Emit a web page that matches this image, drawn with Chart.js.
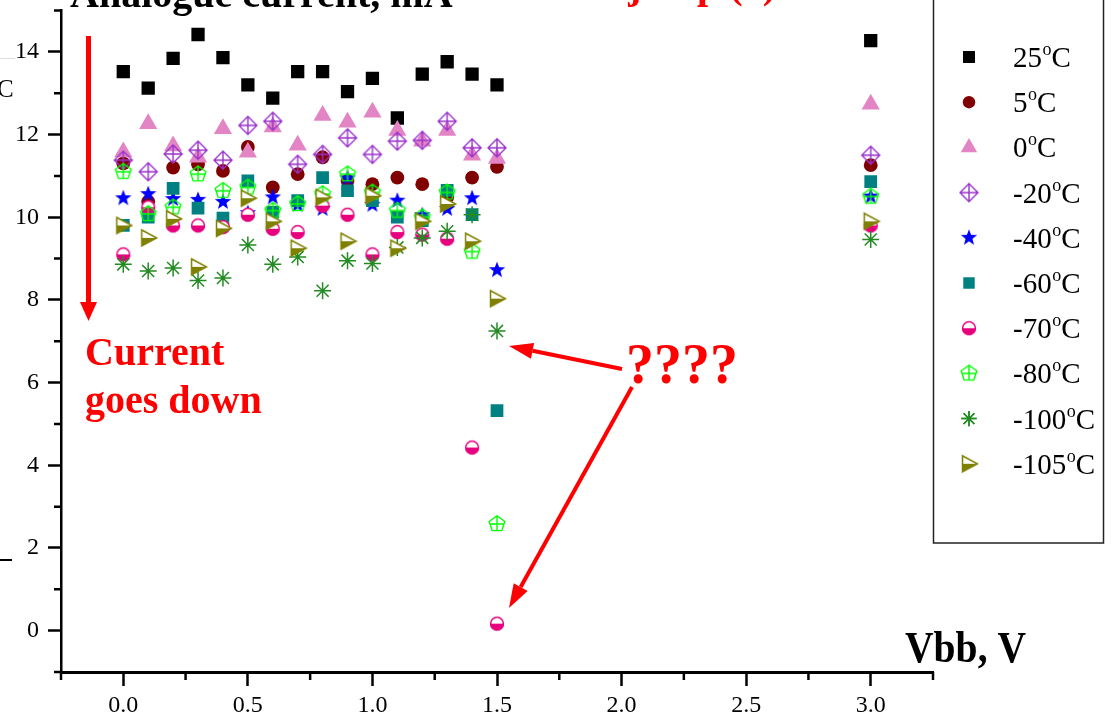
<!DOCTYPE html>
<html>
<head>
<meta charset="utf-8">
<title>Analogue current vs Vbb</title>
<script src="https://cdn.jsdelivr.net/npm/chart.js@4.4.1/dist/chart.umd.min.js"></script>
<style>
  html, body { margin: 0; padding: 0; background: #fff; }
  canvas { display: block; }
</style>
</head>
<body>
<canvas id="chart" width="1115" height="720"></canvas>
<script>
// Vbb, V
const vbb = [0.0, 0.1, 0.2, 0.3, 0.4, 0.5, 0.6, 0.7, 0.8, 0.9, 1.0, 1.1, 1.2, 1.3, 1.4, 1.5, 3.0];

// Analogue current, mA, per temperature
const cur25 = [13.52, 13.12, 13.84, 14.42, 13.86, 13.2, 12.88, 13.52, 13.52, 13.04, 13.36, 12.4, 13.46, 13.76, 13.46, 13.2, 14.27];
const cur5 = [11.3, 10.38, 11.2, 11.28, 11.12, 11.7, 10.72, 11.04, 11.45, 10.88, 10.8, 10.96, 10.8, 10.48, 10.96, 11.22, 11.26];
const cur0 = [11.58, 12.26, 11.72, 11.45, 12.14, 11.57, 12.18, 11.74, 12.46, 12.3, 12.54, 12.1, 11.84, 12.1, 11.5, 11.42, 12.73];
const curM20 = [11.38, 11.1, 11.53, 11.62, 11.38, 12.22, 12.32, 11.28, 11.52, 11.92, 11.52, 11.84, 11.86, 12.32, 11.68, 11.68, 11.5];
const curM40 = [10.46, 10.56, 10.44, 10.42, 10.37, 10.1, 10.48, 10.3, 10.2, 10.94, 10.3, 10.4, 10.05, 10.2, 10.46, 8.72, 10.5];
const curM60 = [9.8, 10.0, 10.7, 10.22, 9.98, 10.88, 10.12, 10.4, 10.96, 10.64, 10.4, 10.0, 9.92, 10.65, 10.06, 5.32, 10.86];
const curM70 = [9.1, 10.24, 9.8, 9.8, 9.76, 10.06, 9.72, 9.64, 10.28, 10.06, 9.1, 9.64, 9.58, 9.48, 4.43, 0.17, 9.8];
const curM80 = [11.1, 10.08, 10.24, 11.04, 10.64, 10.72, 10.16, 10.32, 10.56, 11.04, 10.6, 10.16, 10.0, 10.6, 9.17, 2.58, 10.5];
const curM100 = [8.86, 8.7, 8.77, 8.47, 8.53, 9.33, 8.86, 9.04, 8.22, 8.95, 8.88, 9.27, 9.5, 9.66, 10.06, 7.25, 9.46];
const curM105 = [9.8, 9.5, 9.96, 8.8, 9.73, 10.46, 9.9, 9.25, 10.48, 9.42, 10.52, 9.25, 9.9, 10.32, 9.42, 8.03, 9.9];

const seriesLabels = ["25°C", "5°C", "0°C", "-20°C", "-40°C", "-60°C", "-70°C", "-80°C", "-100°C", "-105°C"];
const seriesValues = [cur25, cur5, cur0, curM20, curM40, curM60, curM70, curM80, curM100, curM105];

// axis ticks
const xTicks = [0, 0.5, 1.0, 1.5, 2.0, 2.5, 3.0];
const xMinorTicks = [-0.25, 0.25, 0.75, 1.25, 1.75, 2.25, 2.75, 3.25];
const yTicks = [0, 2, 4, 6, 8, 10, 12, 14];
const yMinorTicks = [-1, 1, 3, 5, 7, 9, 11, 13, 15];

// Custom marker shapes (Origin style symbols)
function makeMarker(size, draw) {
  const c = document.createElement("canvas");
  c.width = size;
  c.height = size;
  const ctx = c.getContext("2d");
  ctx.translate(size / 2, size / 2);
  draw(ctx);
  return c;
}

const diamondCross = (color) => makeMarker(22, (ctx) => {
  const r = 9;
  ctx.strokeStyle = color;
  ctx.lineWidth = 1.4;
  ctx.beginPath();
  ctx.moveTo(0, -r); ctx.lineTo(r, 0); ctx.lineTo(0, r); ctx.lineTo(-r, 0); ctx.closePath();
  ctx.moveTo(0, -r); ctx.lineTo(0, r);
  ctx.moveTo(-r, 0); ctx.lineTo(r, 0);
  ctx.stroke();
});

const star5 = (color) => makeMarker(20, (ctx) => {
  const R = 8.6, r = 3.6;
  ctx.fillStyle = color;
  ctx.beginPath();
  for (let i = 0; i < 10; i++) {
    const a = -Math.PI / 2 + i * Math.PI / 5;
    const rr = i % 2 ? r : R;
    ctx.lineTo(Math.cos(a) * rr, Math.sin(a) * rr);
  }
  ctx.closePath();
  ctx.fill();
});

const halfCircle = (color) => makeMarker(18, (ctx) => {
  const r = 6.9;
  ctx.fillStyle = "#fff";
  ctx.beginPath(); ctx.arc(0, 0, r, 0, 2 * Math.PI); ctx.fill();
  ctx.fillStyle = color;
  ctx.beginPath(); ctx.arc(0, 0, r, 0, Math.PI); ctx.closePath(); ctx.fill();
  ctx.strokeStyle = color;
  ctx.lineWidth = 1.5;
  ctx.beginPath(); ctx.arc(0, 0, r - 0.5, 0, 2 * Math.PI); ctx.stroke();
});

const pentagonCross = (color) => makeMarker(20, (ctx) => {
  const r = 8.2;
  ctx.strokeStyle = color;
  ctx.lineWidth = 1.4;
  ctx.beginPath();
  for (let i = 0; i < 5; i++) {
    const a = -Math.PI / 2 + i * 2 * Math.PI / 5;
    ctx.lineTo(Math.cos(a) * r, Math.sin(a) * r);
  }
  ctx.closePath();
  ctx.moveTo(0, -r); ctx.lineTo(0, r * 0.81);
  ctx.moveTo(-r * 0.85, 0); ctx.lineTo(r * 0.85, 0);
  ctx.stroke();
});

const halfTriangle = (color) => makeMarker(20, (ctx) => {
  const tri = () => {
    ctx.beginPath();
    ctx.moveTo(-6.5, -8); ctx.lineTo(8.5, 0); ctx.lineTo(-6.5, 8); ctx.closePath();
  };
  ctx.fillStyle = "#fff";
  tri(); ctx.fill();
  ctx.fillStyle = color;
  ctx.beginPath();
  ctx.moveTo(-6.5, 0); ctx.lineTo(8.5, 0); ctx.lineTo(-6.5, 8); ctx.closePath();
  ctx.fill();
  ctx.strokeStyle = color;
  ctx.lineWidth = 1.5;
  tri(); ctx.stroke();
});

// marker style per series
const seriesStyles = [
  { color: "#000000", pointStyle: "rect", radius: 9.4, border: 0 },
  { color: "#800000", pointStyle: "circle", radius: 6.9, border: 0 },
  { color: "#e384c4", pointStyle: "triangle", radius: 10.5, border: 0 },
  { color: "#9a32cd", pointStyle: diamondCross("#9a32cd"), radius: 9, border: 0 },
  { color: "#0000ff", pointStyle: star5("#0000ff"), radius: 8, border: 0 },
  { color: "#008080", pointStyle: "rect", radius: 9, border: 0 },
  { color: "#e6007e", pointStyle: halfCircle("#e6007e"), radius: 7, border: 0 },
  { color: "#00ff00", pointStyle: pentagonCross("#00ff00"), radius: 8, border: 0 },
  { color: "#228b22", pointStyle: "star", radius: 8.5, border: 1.5 },
  { color: "#808000", pointStyle: halfTriangle("#808000"), radius: 8, border: 0 },
];

const datasets = seriesLabels.map((label, i) => ({
  label: label,
  data: vbb.map((x, j) => ({ x: x, y: seriesValues[i][j] })),
  pointStyle: seriesStyles[i].pointStyle,
  pointRadius: seriesStyles[i].radius,
  pointHoverRadius: seriesStyles[i].radius,
  backgroundColor: seriesStyles[i].color,
  borderColor: seriesStyles[i].color,
  borderWidth: seriesStyles[i].border,
  showLine: false,
  order: seriesLabels.length - i, // later series drawn on top
}));

const SERIF = '"Liberation Serif", "DejaVu Serif", serif';

// short minor ticks on both axes
const minorTicks = {
  id: "minorTicks",
  afterDraw(chart) {
    const ctx = chart.ctx;
    const { left, bottom } = chart.chartArea;
    ctx.save();
    ctx.strokeStyle = "#000";
    ctx.lineWidth = 2.5;
    ctx.beginPath();
    xMinorTicks.forEach((v) => {
      const px = chart.scales.x.getPixelForValue(v);
      ctx.moveTo(px, bottom);
      ctx.lineTo(px, bottom + 8);
    });
    yMinorTicks.forEach((v) => {
      const py = chart.scales.y.getPixelForValue(v);
      ctx.moveTo(left, py);
      ctx.lineTo(left - 7, py);
    });
    ctx.stroke();
    ctx.restore();
  },
};

function arrow(ctx, x1, y1, x2, y2, width, headLen, headHalf) {
  const ang = Math.atan2(y2 - y1, x2 - x1);
  const bx = x2 - Math.cos(ang) * headLen;
  const by = y2 - Math.sin(ang) * headLen;
  ctx.lineWidth = width;
  ctx.beginPath();
  ctx.moveTo(x1, y1);
  ctx.lineTo(bx, by);
  ctx.stroke();
  ctx.beginPath();
  ctx.moveTo(x2, y2);
  ctx.lineTo(bx + Math.sin(ang) * headHalf, by - Math.cos(ang) * headHalf);
  ctx.lineTo(bx - Math.sin(ang) * headHalf, by + Math.cos(ang) * headHalf);
  ctx.closePath();
  ctx.fill();
}

// titles, red notes and arrows
const annotations = {
  id: "annotations",
  afterDraw(chart) {
    const ctx = chart.ctx;
    ctx.save();
    ctx.textBaseline = "alphabetic";

    ctx.fillStyle = "#000";
    ctx.font = "bold 40px " + SERIF;
    ctx.textAlign = "left";
    ctx.fillText("Analogue current, mA", 70, 7);

    // axis name, a bit narrow like the original
    ctx.save();
    ctx.translate(905, 662);
    ctx.scale(0.88, 1);
    ctx.font = "bold 45px " + SERIF;
    ctx.fillText("Vbb, V", 0, 0);
    ctx.restore();

    // cropped bits at the left edge
    ctx.font = "25px " + SERIF;
    ctx.fillText("C", -3, 97);
    ctx.fillRect(0, 559, 12, 2);
    ctx.fillStyle = "#dddddd";
    ctx.fillRect(0, 58, 15, 1);

    ctx.fillStyle = "#ff0000";
    ctx.strokeStyle = "#ff0000";
    ctx.font = "bold 40px " + SERIF;
    ctx.textAlign = "right";
    ctx.fillText("Sudden jump (?)", 776, -2);
    ctx.textAlign = "left";
    ctx.fillText("Current", 85, 365);
    ctx.fillText("goes down", 85, 413);
    ctx.font = "bold 56px " + SERIF;
    ctx.fillText("????", 626, 383);

    arrow(ctx, 88.5, 36, 88.5, 321, 5, 19, 8.5);
    arrow(ctx, 622, 369, 509, 346, 4, 24, 8);
    arrow(ctx, 632, 387, 509, 608, 4, 24, 8);
    ctx.restore();
  },
};

// boxed legend with superscript degree sign
const boxLegend = {
  id: "boxLegend",
  afterDraw(chart) {
    const ctx = chart.ctx;
    ctx.save();
    ctx.strokeStyle = "#222";
    ctx.lineWidth = 1.5;
    ctx.strokeRect(933.5, -5, 170, 548);
    chart.data.datasets.forEach((ds, i) => {
      const y = 57 + i * 45.2;
      ctx.fillStyle = ds.backgroundColor;
      ctx.strokeStyle = ds.borderColor;
      ctx.lineWidth = ds.borderWidth;
      Chart.helpers.drawPoint(ctx, {
        pointStyle: ds.pointStyle,
        radius: ds.pointRadius * 0.9,
        borderWidth: ds.borderWidth,
        rotation: 0,
      }, 969, y);
      if (ds.borderWidth) ctx.stroke();
      const parts = ds.label.split("°");
      ctx.fillStyle = "#000";
      ctx.textAlign = "left";
      ctx.font = "29px " + SERIF;
      let x = 1013;
      ctx.fillText(parts[0], x, y + 10);
      x += ctx.measureText(parts[0]).width;
      ctx.font = "18px " + SERIF;
      ctx.fillText("o", x + 0.5, y - 2);
      x += ctx.measureText("o").width + 0.5;
      ctx.font = "29px " + SERIF;
      ctx.fillText(parts[1], x, y + 10);
    });
    ctx.restore();
  },
};

new Chart(document.getElementById("chart"), {
  type: "scatter",
  data: { datasets: datasets },
  options: {
    responsive: false,
    animation: false,
    devicePixelRatio: 1,
    layout: { padding: { left: 0, top: 8, right: 182, bottom: 0 } },
    plugins: {
      legend: { display: false },
      tooltip: { enabled: false },
    },
    scales: {
      x: {
        type: "linear",
        min: -0.25,
        max: 3.25,
        afterBuildTicks: (scale) => { scale.ticks = xTicks.map((v) => ({ value: v })); },
        afterFit: (scale) => {
          scale.height = 48;
          scale.paddingLeft = 0;
          scale.paddingRight = 0;
        },
        border: { display: true, color: "#000", width: 3 },
        grid: { drawOnChartArea: false, drawTicks: true, tickLength: 14, tickWidth: 2.5, tickColor: "#000" },
        ticks: {
          color: "#000",
          padding: 5,
          maxRotation: 0,
          font: { family: SERIF, size: 24 },
          callback: (v) => Number(v).toFixed(1),
        },
      },
      y: {
        type: "linear",
        min: -1,
        max: 15,
        afterBuildTicks: (scale) => { scale.ticks = yTicks.map((v) => ({ value: v })); },
        afterFit: (scale) => {
          scale.width = 61;
          scale.paddingTop = 0;
          scale.paddingBottom = 0;
        },
        border: { display: true, color: "#000", width: 2.5 },
        grid: { drawOnChartArea: false, drawTicks: true, tickLength: 13, tickWidth: 2.5, tickColor: "#000" },
        ticks: {
          color: "#000",
          padding: 9,
          font: { family: SERIF, size: 24 },
          callback: (v) => String(v),
        },
      },
    },
  },
  plugins: [minorTicks, annotations, boxLegend],
});
</script>
</body>
</html>
